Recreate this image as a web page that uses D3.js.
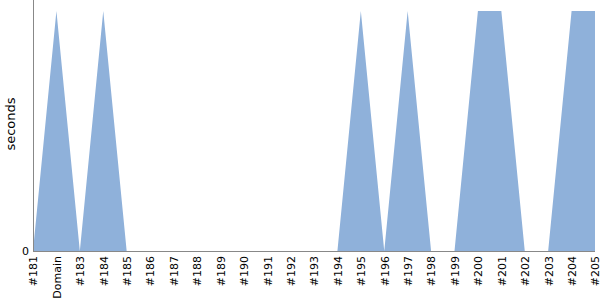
<!DOCTYPE html>
<html>
<head>
<meta charset="utf-8">
<script src="https://cdn.jsdelivr.net/npm/d3@7"></script>
<style>
  body { margin: 0; background: #fff; }
  text { font-family: "DejaVu Sans", sans-serif; }
</style>
</head>
<body>
<div id="chart"></div>
<script>
// categories along the bottom
var categories = ["#181", "Domain", "#183", "#184", "#185", "#186", "#187", "#188",
  "#189", "#190", "#191", "#192", "#193", "#194", "#195", "#196", "#197", "#198",
  "#199", "#200", "#201", "#202", "#203", "#204", "#205"];
// seconds per category
var seconds = [0, 1, 0, 1, 0, 0, 0, 0, 0, 0, 0, 0, 0, 0, 1, 0, 1, 0, 0, 1, 1, 0, 0, 1, 1];
var yTicks = [0];

var margin = {top: 11, right: 5, bottom: 49, left: 33},
    width = 600 - margin.left - margin.right,
    height = 300 - margin.top - margin.bottom;

var svg = d3.select("#chart").append("svg")
    .attr("width", 600)
    .attr("height", 300)
  .append("g")
    .attr("transform", "translate(" + margin.left + "," + margin.top + ")");

var x = d3.scalePoint().domain(categories).range([0, width]);
var y = d3.scaleLinear().domain([0, 1]).range([height, 0]);

var data = categories.map(function (c, i) { return {cat: c, value: seconds[i]}; });

// area
svg.append("path")
    .datum(data)
    .attr("fill", "#8fb1da")
    .attr("d", d3.area()
      .x(function (d) { return x(d.cat); })
      .y0(y(0))
      .y1(function (d) { return y(d.value); }));

// x axis
var xAxis = svg.append("g")
    .attr("transform", "translate(0," + height + ")")
    .call(d3.axisBottom(x).tickSize(0).tickPadding(0));
xAxis.select(".domain").attr("stroke", "#888").attr("d", "M0,0.5H" + width);
xAxis.selectAll("text")
    .attr("font-size", 11)
    .attr("fill", "#000")
    .attr("transform", "rotate(-90)")
    .attr("text-anchor", "end")
    .attr("x", -5)
    .attr("y", 0)
    .attr("dy", "0.35em");

// y axis
var yAxis = svg.append("g")
    .call(d3.axisLeft(y).tickValues(yTicks).tickFormat(d3.format("d")).tickSize(0).tickPadding(4));
yAxis.select(".domain").attr("stroke", "#888")
    .attr("d", "M0.5," + (-margin.top) + "V" + height);
yAxis.selectAll("text").attr("font-size", 11).attr("fill", "#000");

svg.append("text")
    .attr("transform", "rotate(-90)")
    .attr("x", -113)
    .attr("y", -18)
    .attr("text-anchor", "middle")
    .attr("font-size", 13)
    .attr("fill", "#000")
    .text("seconds");
</script>
</body>
</html>
